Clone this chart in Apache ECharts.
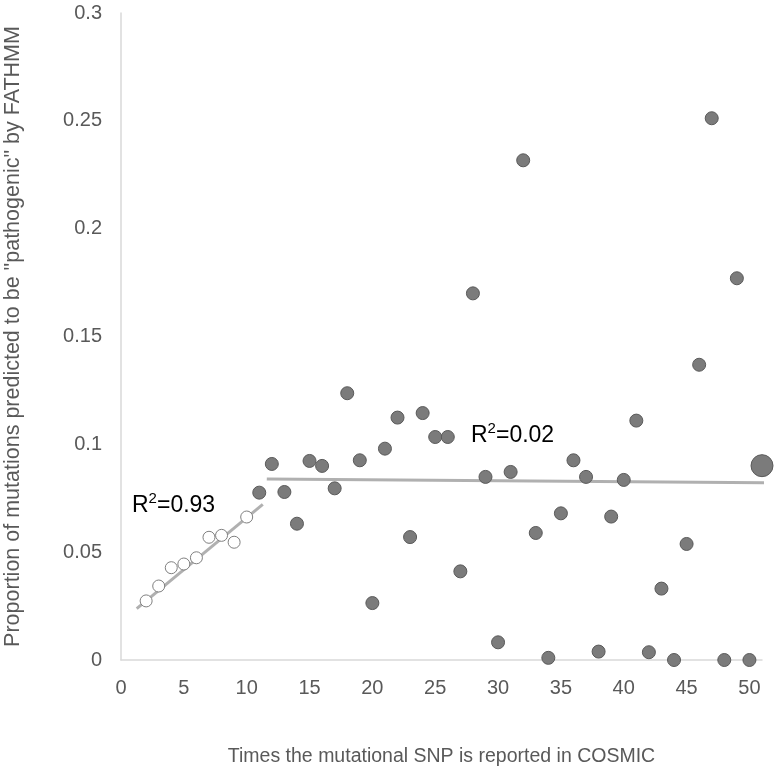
<!DOCTYPE html>
<html>
<head>
<meta charset="utf-8">
<script src="https://cdn.jsdelivr.net/npm/echarts@6/dist/echarts.min.js"></script>
<style>html,body{margin:0;padding:0;background:#fff}#c{width:776px;height:771px}</style>
</head>
<body>
<div id="c"></div>
<script>
// Open circles (1-10 reports)
var openX = [2, 3, 4, 5, 6, 7, 8, 9, 10];
var openY = [0.0274, 0.0343, 0.0428, 0.0445, 0.0474, 0.0569, 0.0578, 0.0546, 0.0663];
// Filled circles (11-50 reports)
var dotX = [11,12,13,14,15,16,17,18,19,20,21,22,23,24,25,26,27,28,29,30,
            31,32,33,34,35,36,37,38,39,40,41,42,43,44,45,46,47,48,49,50];
var dotY = [0.0776,0.0909,0.0779,0.0632,0.0923,0.0900,0.0796,0.1237,0.0926,0.0264,
            0.0980,0.1124,0.0570,0.1145,0.1034,0.1034,0.0411,0.1700,0.0849,0.0082,
            0.0872,0.2317,0.0589,0.0010,0.0680,0.0926,0.0849,0.0039,0.0665,0.0835,
            0.1110,0.0036,0.0331,0.0000,0.0538,0.1369,0.2512,0.0000,0.1770,0.0000];
// Aggregate point
var bigX = [51];
var bigY = [0.0901];
// Trend lines
var trend1X = [1.25, 11.28];
var trend1Y = [0.0238, 0.0722];
var trend2X = [11.6, 51.4];
var trend2Y = [0.0839, 0.0822];
var yTicks = [0, 0.05, 0.1, 0.15, 0.2, 0.25, 0.3];
var xTickStep = 5;

function pairs(xs, ys){ return xs.map(function(x,i){ return [x, ys[i]]; }); }

var chart = echarts.init(document.getElementById('c'), null, {renderer:'canvas'});
var font = 'Liberation Sans, Arial, sans-serif';
chart.setOption({
  animation: false,
  backgroundColor: '#ffffff',
  grid: {left: 121, right: 14, top: 13, bottom: 111, containLabel: false, outerBoundsMode: 'none'},
  xAxis: {
    type: 'value', min: 0, max: 51, interval: xTickStep,
    axisLine: {show: true, lineStyle: {color: '#d9d9d9', width: 1.5}},
    axisTick: {show: false},
    splitLine: {show: false},
    axisLabel: {color: '#595959', fontSize: 20, fontFamily: font, margin: 18, showMaxLabel: false},
    name: 'Times the mutational SNP is reported in COSMIC',
    nameLocation: 'middle', nameGap: 87,
    nameTextStyle: {color: '#595959', fontSize: 19.5, fontFamily: font}
  },
  yAxis: {
    type: 'value', min: yTicks[0], max: yTicks[yTicks.length-1], interval: 0.05,
    axisLine: {show: true, lineStyle: {color: '#d9d9d9', width: 1.5}},
    axisTick: {show: false},
    splitLine: {show: false},
    axisLabel: {color: '#595959', fontSize: 20, fontFamily: font, margin: 19},
    name: 'Proportion of mutations predicted to be "pathogenic" by FATHMM',
    nameLocation: 'middle', nameGap: 97,
    nameTextStyle: {color: '#595959', fontSize: 21.5, fontFamily: font}
  },
  series: [
    {type: 'line', data: pairs(trend1X, trend1Y), showSymbol: false, symbol: 'none', clip: false,
     lineStyle: {color: '#b0b0b0', width: 3}, z: 1},
    {type: 'line', data: pairs(trend2X, trend2Y), showSymbol: false, symbol: 'none', clip: false,
     lineStyle: {color: '#b0b0b0', width: 3}, z: 1},
    {type: 'scatter', data: pairs(openX, openY), symbolSize: 12, clip: false,
     itemStyle: {color: '#ffffff', borderColor: '#808080', borderWidth: 1, opacity: 1}, z: 3},
    {type: 'scatter', data: pairs(dotX, dotY), symbolSize: 13, clip: false,
     itemStyle: {color: '#7b7b7b', borderColor: '#5a5a5a', borderWidth: 1, opacity: 1}, z: 3},
    {type: 'scatter', data: pairs(bigX, bigY), symbolSize: 22, clip: false,
     itemStyle: {color: '#7b7b7b', borderColor: '#5a5a5a', borderWidth: 1, opacity: 1}, z: 3}
  ],
  graphic: [
    {type: 'text', left: 132, top: 491, style: {
      text: '{a|R}{s|2}{a|=0.93}', rich: {
        a: {fontSize: 23, fontFamily: font, fill: '#000', verticalAlign: 'bottom', lineHeight: 26},
        s: {fontSize: 15, fontFamily: font, fill: '#000', verticalAlign: 'top', lineHeight: 26, padding: [0,0,10,0]}
      }}},
    {type: 'text', left: 471, top: 421, style: {
      text: '{a|R}{s|2}{a|=0.02}', rich: {
        a: {fontSize: 23, fontFamily: font, fill: '#000', verticalAlign: 'bottom', lineHeight: 26},
        s: {fontSize: 15, fontFamily: font, fill: '#000', verticalAlign: 'top', lineHeight: 26, padding: [0,0,10,0]}
      }}}
  ]
});
</script>
</body>
</html>
